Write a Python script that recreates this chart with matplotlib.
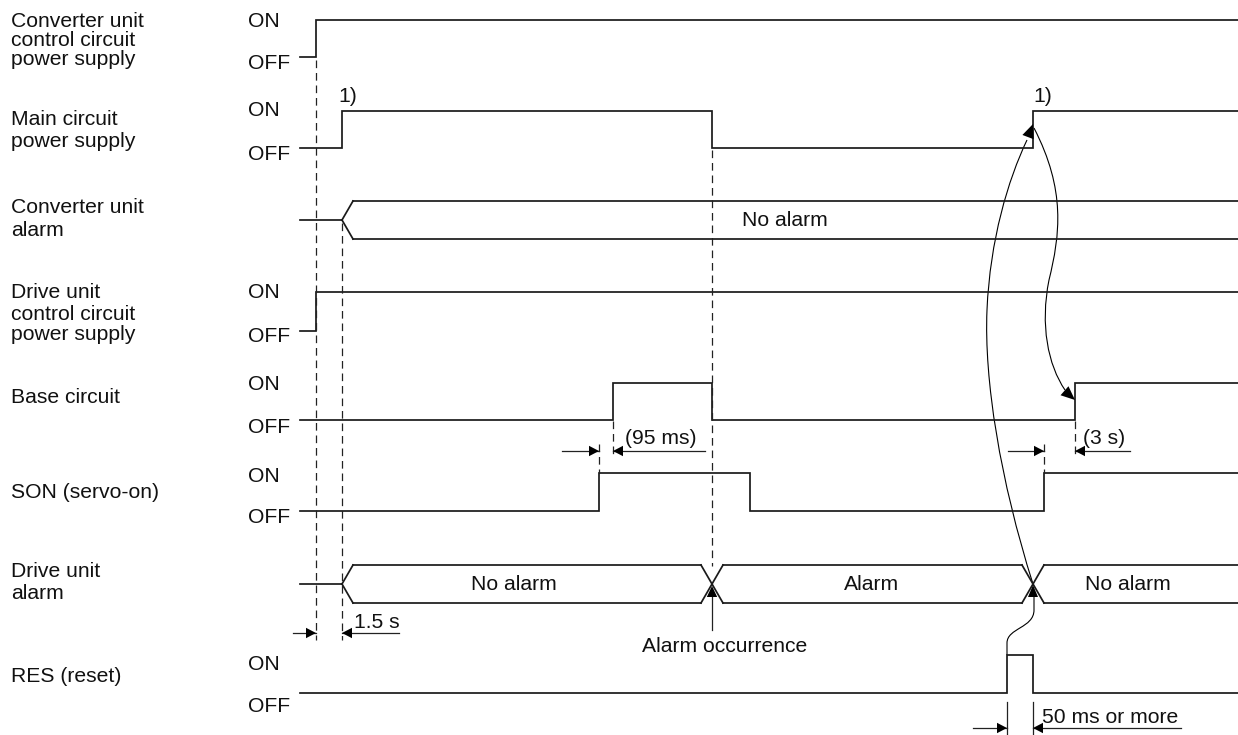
import matplotlib
matplotlib.use("Agg")
import matplotlib.pyplot as plt
import numpy as np
from matplotlib.path import Path
from matplotlib.patches import PathPatch, Polygon

plt.rcParams['font.family'] = ['Liberation Sans', 'DejaVu Sans']
plt.rcParams['lines.scale_dashes'] = False

# ---------------- data ----------------
row_labels = [
    ["Converter unit", "control circuit", "power supply"],
    ["Main circuit", "power supply"],
    ["Converter unit", "alarm"],
    ["Drive unit", "control circuit", "power supply"],
    ["Base circuit"],
    ["SON (servo-on)"],
    ["Drive unit", "alarm"],
    ["RES (reset)"],
]
row_kind = ["level", "level", "bus", "level", "level", "level", "bus", "level"]

# edge times (diagram time axis, pixel-like units)
conv_ctrl_edges = [316]
main_edges = [342, 712, 1033]
drive_ctrl_edges = [316]
base_edges = [613, 712, 1075]
son_edges = [599, 750, 1044]
res_edges = [1007, 1033]

conv_alarm_edges = [342]
conv_alarm_states = ["No alarm"]
drive_alarm_edges = [342, 712, 1033]
drive_alarm_states = ["No alarm", "Alarm", "No alarm"]

dim_labels = ["1.5 s", "(95 ms)", "(3 s)", "50 ms or more"]
dim_spans = [(316, 342), (599, 613), (1044, 1075), (1007, 1033)]

# ---------------- layout ----------------
W, H = 1238, 735
T0, T1 = 300, 1238
hi_y = [20, 111, 201, 292, 383, 473, 565, 655]
lo_y = [57, 148, 239, 331, 420, 511, 603, 693]
label_base = [[27, 46, 65], [125, 147], [213, 236], [298, 320, 340],
              [403], [498], [577, 599], [682]]
on_base = {0: 27, 1: 116, 3: 298, 4: 390, 5: 482, 7: 670}
off_base = {0: 69, 1: 160, 3: 342, 4: 433, 5: 523, 7: 712}

FS = 15.2
LC = '#1a1a1a'
LW = 1.25

fig = plt.figure(figsize=(W / 100, H / 100), dpi=100)
ax = fig.add_axes([0, 0, 1, 1])
ax.set_xlim(0, W)
ax.set_ylim(H, 0)
ax.axis('off')


def txt(x, y, s, ha='left', va='baseline', size=FS):
    ax.text(x, y, s, ha=ha, va=va, fontsize=size, color='#111111')


def arrowhead(tip, d, length=11, half=5.2, color='black'):
    d = np.array(d, float)
    d /= np.linalg.norm(d)
    n = np.array([-d[1], d[0]])
    tip = np.array(tip, float)
    b = tip - d * length
    ax.add_patch(Polygon([tip, b + n * half, b - n * half], closed=True,
                         color=color, lw=0, zorder=5))


def level(row, edges, start=0):
    xs, ys = [T0], []
    lv = start
    ylv = lambda v: hi_y[row] if v else lo_y[row]
    ys.append(ylv(lv))
    for e in edges:
        xs += [e, e]
        ys += [ylv(lv), ylv(1 - lv)]
        lv = 1 - lv
    xs.append(T1)
    ys.append(ylv(lv))
    ax.plot(xs, ys, color=LC, lw=LW, solid_joinstyle='miter')


def bus(row, edges, states, label_x, s=11):
    top, bot = hi_y[row], lo_y[row]
    mid = (top + bot) / 2
    ax.plot([T0, edges[0]], [mid, mid], color=LC, lw=LW)
    ax.plot([edges[0], edges[0] + s], [mid, top], color=LC, lw=LW)
    ax.plot([edges[0], edges[0] + s], [mid, bot], color=LC, lw=LW)
    bounds = list(edges[1:]) + [None]
    for i, e in enumerate(edges):
        xa = e + s
        xb = bounds[i] - s if bounds[i] is not None else T1
        ax.plot([xa, xb], [top, top], color=LC, lw=LW)
        ax.plot([xa, xb], [bot, bot], color=LC, lw=LW)
        if bounds[i] is not None:
            c = bounds[i]
            ax.plot([c - s, c + s], [top, bot], color=LC, lw=LW)
            ax.plot([c - s, c + s], [bot, top], color=LC, lw=LW)
        ax.text(label_x[i], mid, states[i], ha='center', va='center',
                fontsize=FS, color='#111111')


def vdash(x, y0, y1):
    ax.plot([x, x], [y0, y1], color='#222222', lw=0.9,
            linestyle=(0, (5.5, 3.5)))


def dimension(x0, x1, y, left_ext, right_ext, label, lx, ly):
    ax.plot([left_ext, x0], [y, y], color='#222222', lw=0.9)
    ax.plot([x1, right_ext], [y, y], color='#222222', lw=0.9)
    arrowhead((x0, y), (1, 0), length=10, half=5.2)
    arrowhead((x1, y), (-1, 0), length=10, half=5.2)
    txt(lx, ly, label)


# ---------------- labels ----------------
for r, lines in enumerate(row_labels):
    for ln, yb in zip(lines, label_base[r]):
        txt(11, yb, ln)
for r in on_base:
    txt(248, on_base[r], "ON")
    txt(248, off_base[r], "OFF")

# ---------------- waveforms ----------------
level(0, conv_ctrl_edges)
level(1, main_edges)
bus(2, conv_alarm_edges, conv_alarm_states, [785])
level(3, drive_ctrl_edges)
level(4, base_edges)
level(5, son_edges)
bus(6, drive_alarm_edges, drive_alarm_states, [514, 872, 1128])
level(7, res_edges)

txt(338, 102, "1)")
txt(1033, 102, "1)")

# ---------------- guide lines ----------------
vdash(conv_ctrl_edges[0], 60, 640)
vdash(main_edges[0], 223, 640)
vdash(main_edges[1], 150, 566)
vdash(base_edges[0], 421, 458)
vdash(son_edges[0], 444, 473)
vdash(son_edges[2], 444, 473)
vdash(base_edges[2], 421, 458)
for x in res_edges:
    ax.plot([x, x], [702, 735], color='#222222', lw=0.9)

# ---------------- dimensions ----------------
dimension(316, 342, 633, 293, 399, dim_labels[0], 354, 628)
dimension(599, 613, 451, 562, 705, dim_labels[1], 625, 444)
dimension(1044, 1075, 451, 1008, 1130, dim_labels[2], 1083, 444)
dimension(1007, 1033, 728, 973, 1181, dim_labels[3], 1042, 723)

# Alarm occurrence
ax.plot([712, 712], [630, 595], color='#222222', lw=0.9)
arrowhead((712, 586), (0, -1), length=11, half=5.2)
txt(725, 652, "Alarm occurrence", ha='center')

# ---------------- causal curves ----------------
CW = 0.8
pA = Path([(1007, 655), (1007, 643), (1007, 628), (1034, 628), (1034, 610),
           (1034, 596)],
          [Path.MOVETO, Path.LINETO, Path.CURVE4, Path.CURVE4, Path.CURVE4,
           Path.LINETO])
ax.add_patch(PathPatch(pA, fill=False, lw=CW, color='black'))
arrowhead((1033, 585), (0, -1), length=12, half=5)

pB = Path([(1033, 584), (1000, 480), (984, 380), (987, 310),
           (990, 240), (1008, 180), (1027, 140)],
          [Path.MOVETO, Path.CURVE4, Path.CURVE4, Path.CURVE4,
           Path.CURVE4, Path.CURVE4, Path.CURVE4])
ax.add_patch(PathPatch(pB, fill=False, lw=CW, color='black'))
arrowhead((1033, 124), (0.38, -1), length=14, half=6)

pC = Path([(1034, 128), (1066, 190), (1060, 235), (1049, 280),
           (1040, 325), (1048, 365), (1065, 390)],
          [Path.MOVETO, Path.CURVE4, Path.CURVE4, Path.CURVE4,
           Path.CURVE4, Path.CURVE4, Path.CURVE4])
ax.add_patch(PathPatch(pC, fill=False, lw=CW, color='black'))
arrowhead((1075, 400), (0.75, 0.66), length=14, half=6)

fig.savefig("out.png", dpi=100)
